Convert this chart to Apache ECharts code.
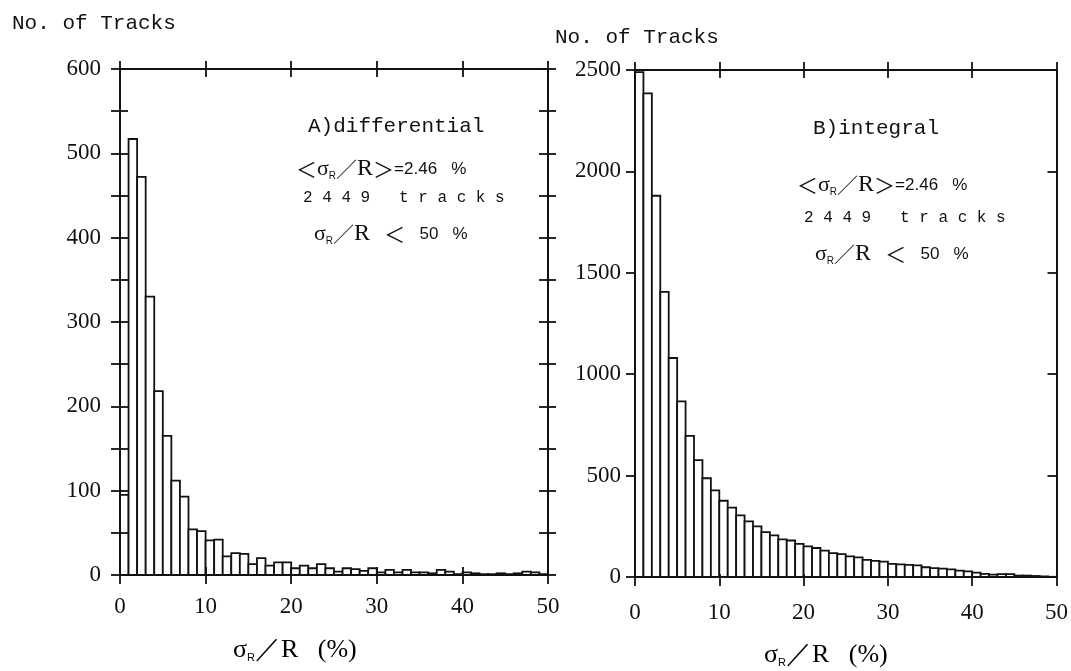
<!DOCTYPE html>
<html><head><meta charset="utf-8">
<script src="https://cdn.jsdelivr.net/npm/echarts@6/dist/echarts.min.js"></script>
<style>html,body{margin:0;padding:0;background:#fff}#c{width:1071px;height:671px}</style>
</head><body><div id="c"></div>
<script>
// bin lower edges (sigma_R/R in %), 1% wide bins
const binStarts = [0,1,2,3,4,5,6,7,8,9,10,11,12,13,14,15,16,17,18,19,20,21,22,23,24,25,26,27,28,29,30,31,32,33,34,35,36,37,38,39,40,41,42,43,44,45,46,47,48,49];
// A) differential: tracks per bin
const diffCounts = [95,517,472,330,218,165,112,93,54,52,41,42,22,26,25,13,20,11,15,15,8,11,8,13,8,4,8,7,5,8,3,6,3,6,3,3,2,6,4,1,3,2,1,1,2,1,2,4,3,1];
// B) integral: tracks above bin edge
const intCounts = [2490,2385,1880,1406,1080,866,696,576,487,427,376,342,304,274,250,221,205,186,180,163,151,143,130,118,113,102,97,84,80,76,65,62,60,57,48,44,41,38,31,28,22,15,12,14,14,7,7,5,3,1];
const xTicks = [0,10,20,30,40,50];
const yTicksA = [0,100,200,300,400,500,600];
const yTicksB = [0,500,1000,1500,2000,2500];

const INK = '#111';
const LW = 1.8;
const serif = 'Liberation Serif';
const mono = 'Liberation Mono';

function renderBars(params, api) {
  const x0 = api.value(0), v = api.value(1);
  const p0 = api.coord([x0, 0]);
  const p1 = api.coord([x0 + 1, v]);
  return {
    type: 'rect',
    shape: { x: p0[0], y: p1[1], width: p1[0] - p0[0], height: p0[1] - p1[1] },
    style: { fill: '#fff', stroke: INK, lineWidth: LW }
  };
}

function xAxesFor(gi, labelMargin, bottomInside) {
  const base = { gridIndex: gi, type: 'value', min: xTicks[0], max: xTicks[xTicks.length - 1], interval: 10,
    splitLine: { show: false }, axisLine: { show: true, onZero: false, lineStyle: { color: INK, width: LW } } };
  return [
    Object.assign({}, base, { position: 'bottom',
      axisTick: { show: true, length: 9, lineStyle: { color: INK, width: LW } },
      axisLabel: { show: true, margin: labelMargin, color: INK, fontFamily: serif, fontSize: 23 } }),
    Object.assign({}, base, { position: 'bottom', z: 10,
      axisTick: { show: true, inside: true, length: bottomInside, lineStyle: { color: INK, width: LW } },
      axisLabel: { show: false } }),
    Object.assign({}, base, { position: 'top', z: 10,
      axisTick: { show: true, length: 8, lineStyle: { color: INK, width: LW } },
      axisLabel: { show: false } }),
    Object.assign({}, base, { position: 'top', z: 10,
      axisTick: { show: true, inside: true, length: 8, lineStyle: { color: INK, width: LW } },
      axisLabel: { show: false } })
  ];
}

function yAxesFor(gi, ticks, interval, labelStep, labelMargin, leftInside, rightOutside) {
  const base = { gridIndex: gi, type: 'value', min: ticks[0], max: ticks[ticks.length - 1], interval: interval,
    splitLine: { show: false }, axisLine: { show: true, onZero: false, lineStyle: { color: INK, width: LW } } };
  return [
    Object.assign({}, base, { position: 'left',
      axisTick: { show: true, length: 9, lineStyle: { color: INK, width: LW } },
      axisLabel: { show: true, margin: labelMargin, color: INK, fontFamily: serif, fontSize: 23,
        formatter: v => (v % labelStep === 0 ? String(v) : '') } }),
    Object.assign({}, base, { position: 'left', z: 10,
      axisTick: { show: leftInside, inside: true, length: 8, lineStyle: { color: INK, width: LW } },
      axisLabel: { show: false } }),
    Object.assign({}, base, { position: 'right', z: 10,
      axisTick: { show: rightOutside, length: 8, lineStyle: { color: INK, width: LW } },
      axisLabel: { show: false } }),
    Object.assign({}, base, { position: 'right', z: 10,
      axisTick: { show: true, inside: true, length: 9, lineStyle: { color: INK, width: LW } },
      axisLabel: { show: false } })
  ];
}

const rich = {
  a: { fontFamily: 'Noto Sans CJK JP', fontSize: 21, color: INK },
  g: { fontFamily: serif, fontSize: 22, color: INK },
  s: { fontFamily: 'Liberation Sans', fontSize: 10, color: INK, verticalAlign: 'bottom', padding: [8, 0, 0, 0] },
  r: { fontFamily: serif, fontSize: 24, color: INK },
  b: { fontFamily: 'Liberation Sans', fontSize: 17, color: INK },
  m: { fontFamily: mono, fontSize: 16, color: INK }
};

function txt(x, y, text) {
  return { type: 'text', x: x, y: y, style: { text: text, rich: rich, fill: INK, verticalAlign: 'middle' } };
}

function panelTexts(x0, yTitle, title, shift) {
  return [
    { type: 'text', x: x0, y: yTitle, style: { text: title, fontFamily: mono, fontSize: 21, fill: INK, verticalAlign: 'middle' } },
    txt(x0 - 12 + shift[0], yTitle + 43 + shift[1], '{a|＜}{g|σ}{s|R}{a|／}{r|R}{a|＞}{b|=2.46   %}'),
    txt(x0 - 5 + shift[0], yTitle + 72 + shift[2], '{m|2 4 4 9   t r a c k s}'),
    txt(x0 + 6 + shift[0], yTitle + 108 + shift[3], '{g|σ}{s|R}{a|／}{r|R}{b|   }{a|＜}{b|   50   %}')
  ];
}

const axisTitleRich = {
  x: { fontFamily: serif, fontSize: 26, color: INK },
  y: { fontFamily: 'Liberation Sans', fontSize: 11, color: INK, verticalAlign: 'bottom', padding: [10, 0, 0, 0] },
  z: { fontFamily: serif, fontSize: 26, color: INK }
};

const chart = echarts.init(document.getElementById('c'));
chart.setOption({
  animation: false,
  backgroundColor: '#fff',
  grid: [
    { left: 120, right: 523, top: 69, bottom: 96 },
    { left: 635, right: 14, top: 70, bottom: 94 }
  ],
  xAxis: [].concat(xAxesFor(0, 20, 8), xAxesFor(1, 24, 3)),
  yAxis: [].concat(
    yAxesFor(0, yTicksA, 50, 100, 19, true, true),
    yAxesFor(1, yTicksB, 500, 500, 14, false, false)
  ),
  series: [
    { type: 'custom', xAxisIndex: 0, yAxisIndex: 0, renderItem: renderBars,
      data: binStarts.map((b, i) => [b, diffCounts[i]]) },
    { type: 'custom', xAxisIndex: 4, yAxisIndex: 4, renderItem: renderBars,
      data: binStarts.map((b, i) => [b, intCounts[i]]) }
  ],
  graphic: [
    { type: 'text', x: 12, y: 23, style: { text: 'No. of Tracks', fontFamily: mono, fontSize: 21, fill: INK, verticalAlign: 'middle' } },
    { type: 'text', x: 555, y: 37, style: { text: 'No. of Tracks', fontFamily: mono, fontSize: 21, fill: INK, verticalAlign: 'middle' } },
    { type: 'text', x: 233, y: 650, style: { text: '{x|σ}{y|R}{x|／R}{z|   (%)}', verticalAlign: 'middle', rich: axisTitleRich } },
    { type: 'text', x: 764, y: 655, style: { text: '{x|σ}{y|R}{x|／R}{z|   (%)}', verticalAlign: 'middle', rich: axisTitleRich } }
  ].concat(
    panelTexts(308, 126, 'A)differential', [0, 0, 0, 0]),
    panelTexts(813, 128, 'B)integral', [-4, 14, 18, 18])
  )
});
</script>
</body></html>
